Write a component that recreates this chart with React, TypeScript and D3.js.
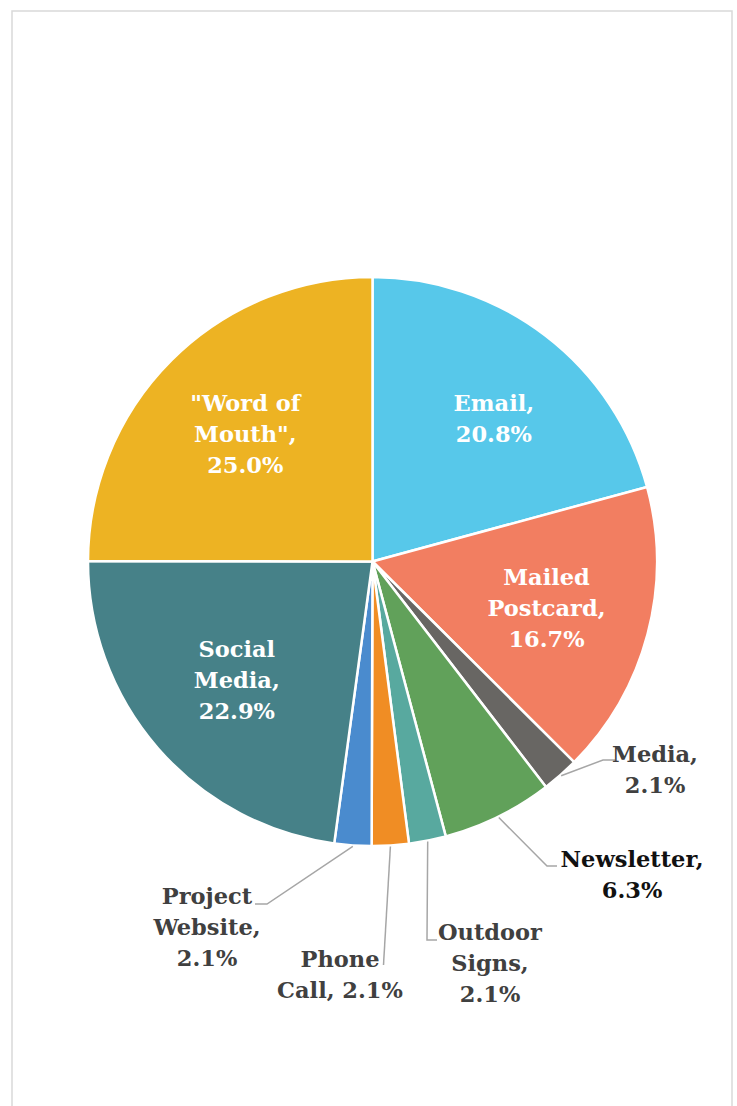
import React from "react";
import * as d3 from "d3";

const categories = [
  "Email",
  "Mailed Postcard",
  "Media",
  "Newsletter",
  "Outdoor Signs",
  "Phone Call",
  "Project Website",
  "Social Media",
  "\"Word of Mouth\"",
];
const percents = [20.8, 16.7, 2.1, 6.3, 2.1, 2.1, 2.1, 22.9, 25.0];
const labelTemplates = [
  "Email,\n{p}",
  "Mailed\nPostcard,\n{p}",
  "Media,\n{p}",
  "Newsletter,\n{p}",
  "Outdoor\nSigns,\n{p}",
  "Phone\nCall, {p}",
  "Project\nWebsite,\n{p}",
  "Social\nMedia,\n{p}",
  "\"Word of\nMouth\",\n{p}",
];
const colors = [
  "#57C8EA",
  "#F27E61",
  "#686663",
  "#61A15A",
  "#58A99F",
  "#F08D24",
  "#4A8BCE",
  "#468188",
  "#EDB323",
];

// layout (not data)
const W = 737;
const H = 1106;
const CX = 372.5;
const CY = 561.5;
const R = 284.5;
const FONT = "'DejaVu Serif', serif";
const FS = 22.5;
const LH = 31;

// outside label layout: text center x, first baseline y, elbow point, end point
const outside: Record<string, { x: number; y: number; elbow: [number, number]; end: [number, number]; color: string }> = {
  Media: { x: 655, y: 762, elbow: [603, 760], end: [615, 760], color: "#404040" },
  Newsletter: { x: 632, y: 867, elbow: [547, 866], end: [557, 866], color: "#111111" },
  "Outdoor Signs": { x: 490, y: 940, elbow: [427, 940], end: [437, 940], color: "#404040" },
  "Phone Call": { x: 340, y: 967, elbow: [383.5, 965], end: [383.5, 965], color: "#404040" },
  "Project Website": { x: 207, y: 904, elbow: [267, 904], end: [255, 904], color: "#404040" },
};
const insideNudge: Record<string, [number, number]> = {
  Email: [12, 0],
};

export default function App() {
  const pie = d3
    .pie<number>()
    .sort(null)
    .value((d) => d)
    .startAngle(0)
    .endAngle(2 * Math.PI);
  const arcs = pie(percents);
  const arc = d3.arc<d3.PieArcDatum<number>>().innerRadius(0).outerRadius(R);

  return (
    <svg
      width={W}
      height={H}
      viewBox={`0 0 ${W} ${H}`}
      style={{ position: "absolute", left: 0, top: 0, background: "#fff" }}
    >
      <rect x={0} y={0} width={W} height={H} fill="#ffffff" />
      <rect x={12} y={11} width={720} height={1120} fill="none" stroke="#D9D9D9" strokeWidth={1.5} />
      <g transform={`translate(${CX},${CY})`}>
        {arcs.map((a, i) => (
          <path key={i} d={arc(a) || ""} fill={colors[i]} stroke="#ffffff" strokeWidth={2.5} strokeLinejoin="miter" />
        ))}
      </g>
      {arcs.map((a, i) => {
        const name = categories[i];
        const lines = labelTemplates[i].replace("{p}", percents[i].toFixed(1) + "%").split("\n");
        const mid = (a.startAngle + a.endAngle) / 2;
        const o = outside[name];
        if (o) {
          const sx = CX + (R + 1) * Math.sin(mid);
          const sy = CY - (R + 1) * Math.cos(mid);
          const pts: [number, number][] = [[sx, sy], o.elbow, o.end];
          const line = d3.line()(pts) || "";
          return (
            <g key={i}>
              <path d={line} fill="none" stroke="#A6A6A6" strokeWidth={1.5} />
              <text
                x={o.x}
                y={o.y}
                textAnchor="middle"
                fontFamily={FONT}
                fontWeight="bold"
                fontSize={FS}
                fill={o.color}
              >
                {lines.map((l, j) => (
                  <tspan key={j} x={o.x} y={o.y + j * LH}>
                    {l}
                  </tspan>
                ))}
              </text>
            </g>
          );
        }
        const rr = 180;
        const nudge = insideNudge[name] || [0, 0];
        const lx = CX + rr * Math.sin(mid) + nudge[0];
        const ly = CY - rr * Math.cos(mid) + nudge[1];
        const y0 = ly - ((lines.length - 1) * LH) / 2 + 8;
        return (
          <text
            key={i}
            x={lx}
            y={y0}
            textAnchor="middle"
            fontFamily={FONT}
            fontWeight="bold"
            fontSize={FS}
            fill="#ffffff"
          >
            {lines.map((l, j) => (
              <tspan key={j} x={lx} y={y0 + j * LH}>
                {l}
              </tspan>
            ))}
          </text>
        );
      })}
    </svg>
  );
}
